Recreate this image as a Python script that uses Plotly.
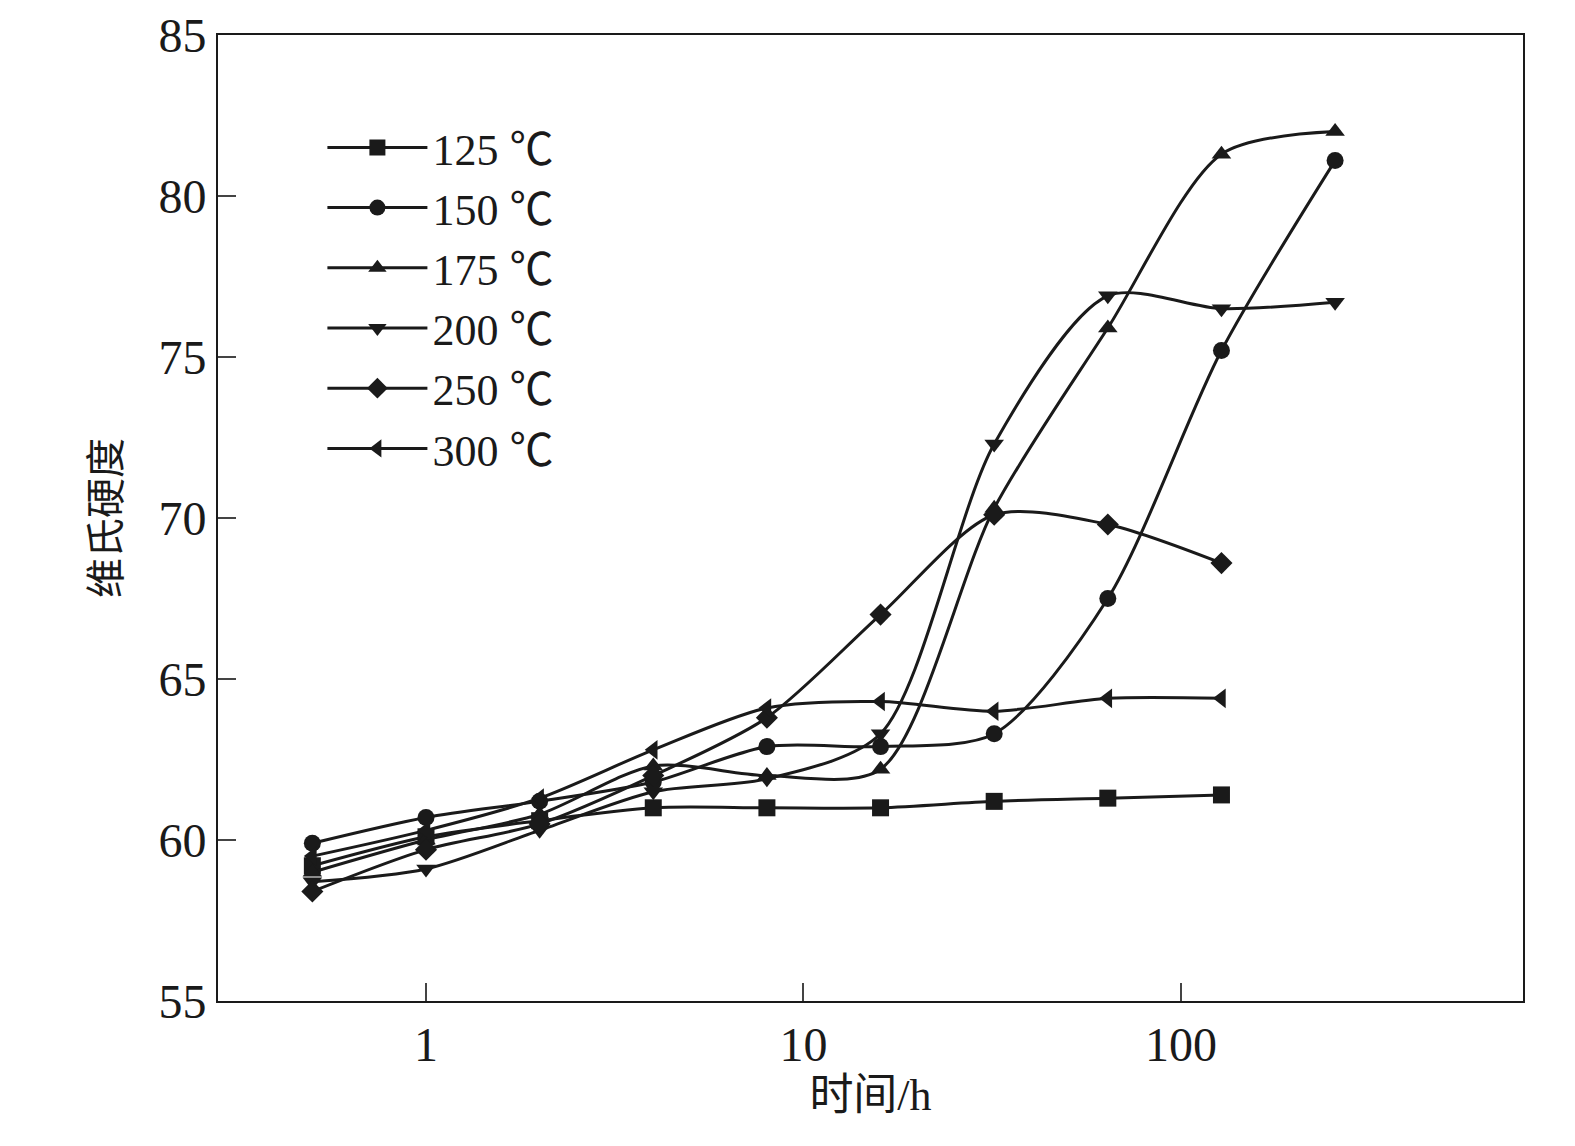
import plotly.graph_objects as go

x_all = [0.5, 1, 2, 4, 8, 16, 32, 64, 128, 256]
labels = ["125 ℃", "150 ℃", "175 ℃", "200 ℃", "250 ℃", "300 ℃"]
v125 = [59.2, 60.1, 60.6, 61.0, 61.0, 61.0, 61.2, 61.3, 61.4]
v150 = [59.9, 60.7, 61.2, 61.8, 62.9, 62.9, 63.3, 67.5, 75.2, 81.1]
v175 = [59.0, 60.0, 60.8, 62.3, 62.0, 62.2, 70.3, 75.9, 81.3, 82.0]
v200 = [58.7, 59.1, 60.3, 61.5, 61.9, 63.3, 72.3, 76.9, 76.5, 76.7]
v250 = [58.4, 59.7, 60.5, 62.0, 63.8, 67.0, 70.1, 69.8, 68.6]
v300 = [59.5, 60.3, 61.3, 62.8, 64.1, 64.3, 64.0, 64.4, 64.4]
series = [v125, v150, v175, v200, v250, v300]
symbols = ["square", "circle", "triangle-up", "triangle-down", "diamond", "triangle-left"]

fig = go.Figure()
for lab, vals, sym in zip(labels, series, symbols):
    fig.add_trace(go.Scatter(
        x=x_all[:len(vals)], y=vals, name=lab, mode="lines+markers",
        line=dict(color="#1a1a1a", width=3, shape="spline", smoothing=0.8),
        marker=dict(symbol=sym, size=17, color="#1a1a1a")))

font = "Liberation Serif, Noto Sans CJK SC, serif"
fig.update_layout(
    width=1575, height=1146, plot_bgcolor="white", paper_bgcolor="white",
    margin=dict(l=210, r=60, t=27, b=153),
    font=dict(family=font, size=48, color="#1a1a1a"),
    showlegend=True,
    legend=dict(x=0.08, y=0.92, xanchor="left", yanchor="top", bgcolor="rgba(0,0,0,0)",
                font=dict(size=44), tracegroupgap=0, itemwidth=100),
    xaxis=dict(type="log", range=[-0.551, 2.906], tickvals=[1, 10, 100],
               ticktext=["1", "10", "100"], ticks="inside", ticklen=18, tickwidth=2,
               showline=True, linecolor="#1a1a1a", linewidth=2, mirror=True,
               showgrid=False, zeroline=False, automargin=False,
               title=dict(text="时间/h", font=dict(size=44), standoff=0)),
    yaxis=dict(range=[55, 85], dtick=5, ticks="inside", ticklen=18, tickwidth=2,
               showline=True, linecolor="#1a1a1a", linewidth=2, mirror=True,
               showgrid=False, zeroline=False, automargin=False,
               title=dict(text="维氏硬度", font=dict(size=40), standoff=25)),
)
fig.write_html("out.html")
